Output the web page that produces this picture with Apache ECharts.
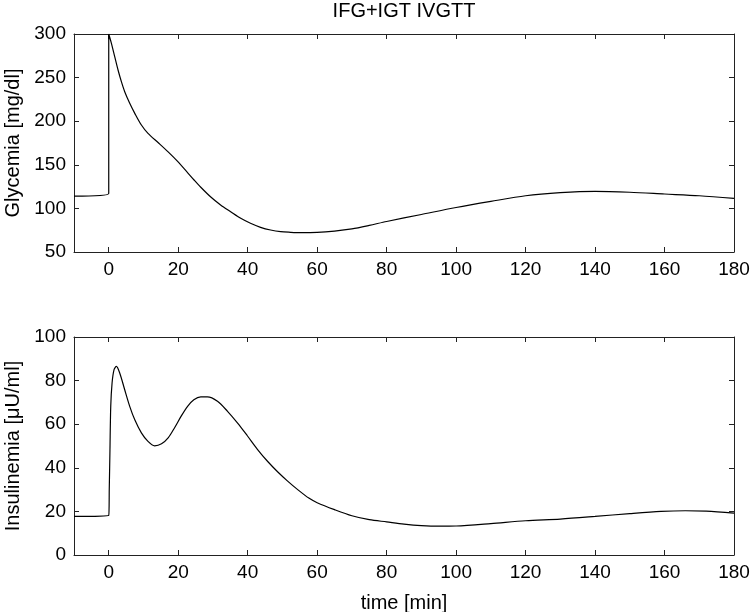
<!DOCTYPE html>
<html>
<head>
<meta charset="utf-8">
<script src="https://cdn.jsdelivr.net/npm/echarts@6/dist/echarts.min.js"></script>
<style>
html,body{margin:0;padding:0;background:#fff;}
#chart{width:754px;height:612px;}
</style>
</head>
<body>
<div id="chart"></div>
<script>
// ---- data ----
const titleText = "IFG+IGT IVGTT";
const xTicks = [0, 20, 40, 60, 80, 100, 120, 140, 160, 180];

const glycTime = [-10, 0, 0, 0.77, 1.72, 2.68, 3.64, 4.6, 6.04, 7.5, 9.4, 11.3, 14.2, 17.1, 19.9, 22.8, 24.7, 26.5, 29.3, 32.2, 35.1, 38, 40.8, 43.7, 46.6, 49.5, 52.3, 55.2, 60, 65, 70, 75, 80, 90, 100, 110, 120, 130, 140, 150, 160, 170, 180];
const glycValue = [114, 117, 300, 289.3, 274, 258.7, 245.3, 233.8, 220.5, 209, 195.6, 186, 175.5, 164.8, 153.6, 140.5, 132, 124.3, 113.4, 104, 96.2, 88.6, 82.9, 78.3, 75.2, 73.3, 72.6, 72.2, 72.5, 74, 76.5, 80.5, 85, 93, 101, 108, 114.5, 118, 119.5, 118.5, 116.5, 114.5, 111.5];

const insuTime = [-10, 0, 0.15, 0.35, 0.58, 0.96, 1.53, 2.2, 3.16, 4.6, 6.04, 7.5, 9.4, 11.3, 13.2, 15.2, 17.1, 19, 20.9, 22.7, 24.5, 26.5, 28.4, 31.3, 34.2, 37.1, 39.9, 42.8, 45.7, 48.6, 51.5, 54.4, 57.6, 60, 65, 70, 75, 80, 85, 90, 95, 100, 110, 120, 130, 140, 150, 159, 166, 172, 180];
const insuValue = [17.7, 18.2, 30, 48, 68.2, 78.9, 85, 86.5, 83.5, 75.8, 68.2, 62, 56, 52.1, 50.1, 51, 53.7, 58.5, 63.8, 68.2, 71.2, 72.5, 72.5, 70.5, 65.9, 60.5, 54.7, 48.5, 43, 38.2, 33.9, 30, 26.1, 24, 20.8, 18, 16.2, 15.2, 14.2, 13.5, 13.2, 13.3, 14.4, 15.7, 16.5, 17.7, 19, 20, 20.3, 20.1, 19.2];

const xMin = -10, xMax = 180;
const glycMin = 50, glycMax = 300, glycStep = 50;
const insuMin = 0, insuMax = 100, insuStep = 20;
const glycName = "Glycemia [mg/dl]";
const insuName = "Insulinemia [\u03bcU/ml]";
const xName = "time [min]";

// ---- chart ----
const FONT = "Liberation Sans, Arial, sans-serif";
const FS = 19;
const NFS = 20;
const lineCol = "#222";

function pairs(t, v) { return t.map((x, i) => [x, v[i]]); }

function xAxisCfg(gi, pos, showLabel, name) {
  return {
    type: 'value', gridIndex: gi, position: pos, min: xMin, max: xMax,
    splitLine: { show: false },
    axisLine: { show: true, onZero: false, lineStyle: { color: lineCol, width: 1 } },
    axisTick: { show: true, inside: true, length: 5, customValues: xTicks, lineStyle: { color: lineCol } },
    axisLabel: { show: showLabel, customValues: xTicks, margin: 8, color: '#000', fontSize: FS, fontFamily: FONT },
    name: name || '', nameLocation: 'middle', nameGap: 38,
    nameTextStyle: { color: '#000', fontSize: NFS, fontFamily: FONT }
  };
}
function yAxisCfg(gi, pos, min, max, interval, showLabel, name) {
  return {
    type: 'value', gridIndex: gi, position: pos, min: min, max: max, interval: interval,
    splitLine: { show: false },
    axisLine: { show: true, onZero: false, lineStyle: { color: lineCol, width: 1 } },
    axisTick: { show: true, inside: true, length: 5, lineStyle: { color: lineCol } },
    axisLabel: { show: showLabel, margin: 8, color: '#000', fontSize: FS, fontFamily: FONT },
    name: name || '', nameLocation: 'middle', nameGap: 46,
    nameTextStyle: { color: '#000', fontSize: NFS, fontFamily: FONT }
  };
}

const chart = echarts.init(document.getElementById('chart'), null, { renderer: 'canvas' });
chart.setOption({
  animation: false,
  backgroundColor: '#fff',
  title: {
    text: titleText, left: 404, top: 1, textAlign: 'center', padding: 0,
    textStyle: { color: '#000', fontSize: NFS, fontWeight: 'normal', fontFamily: FONT }
  },
  grid: [
    { left: 74, top: 34, width: 660, height: 218, containLabel: false, outerBoundsMode: 'none' },
    { left: 74, top: 337, width: 660, height: 218, containLabel: false, outerBoundsMode: 'none' }
  ],
  xAxis: [
    xAxisCfg(0, 'bottom', true),
    xAxisCfg(0, 'top', false),
    xAxisCfg(1, 'bottom', true, xName),
    xAxisCfg(1, 'top', false)
  ],
  yAxis: [
    yAxisCfg(0, 'left', glycMin, glycMax, glycStep, true, glycName),
    yAxisCfg(0, 'right', glycMin, glycMax, glycStep, false),
    yAxisCfg(1, 'left', insuMin, insuMax, insuStep, true, insuName),
    yAxisCfg(1, 'right', insuMin, insuMax, insuStep, false)
  ],
  series: [
    {
      type: 'line', xAxisIndex: 0, yAxisIndex: 0, data: pairs(glycTime, glycValue),
      showSymbol: false, smooth: 0.3,
      lineStyle: { color: '#000', width: 1.2 }
    },
    {
      type: 'line', xAxisIndex: 2, yAxisIndex: 2, data: pairs(insuTime, insuValue),
      showSymbol: false, smooth: 0.3,
      lineStyle: { color: '#000', width: 1.2 }
    }
  ]
});
</script>
</body>
</html>
